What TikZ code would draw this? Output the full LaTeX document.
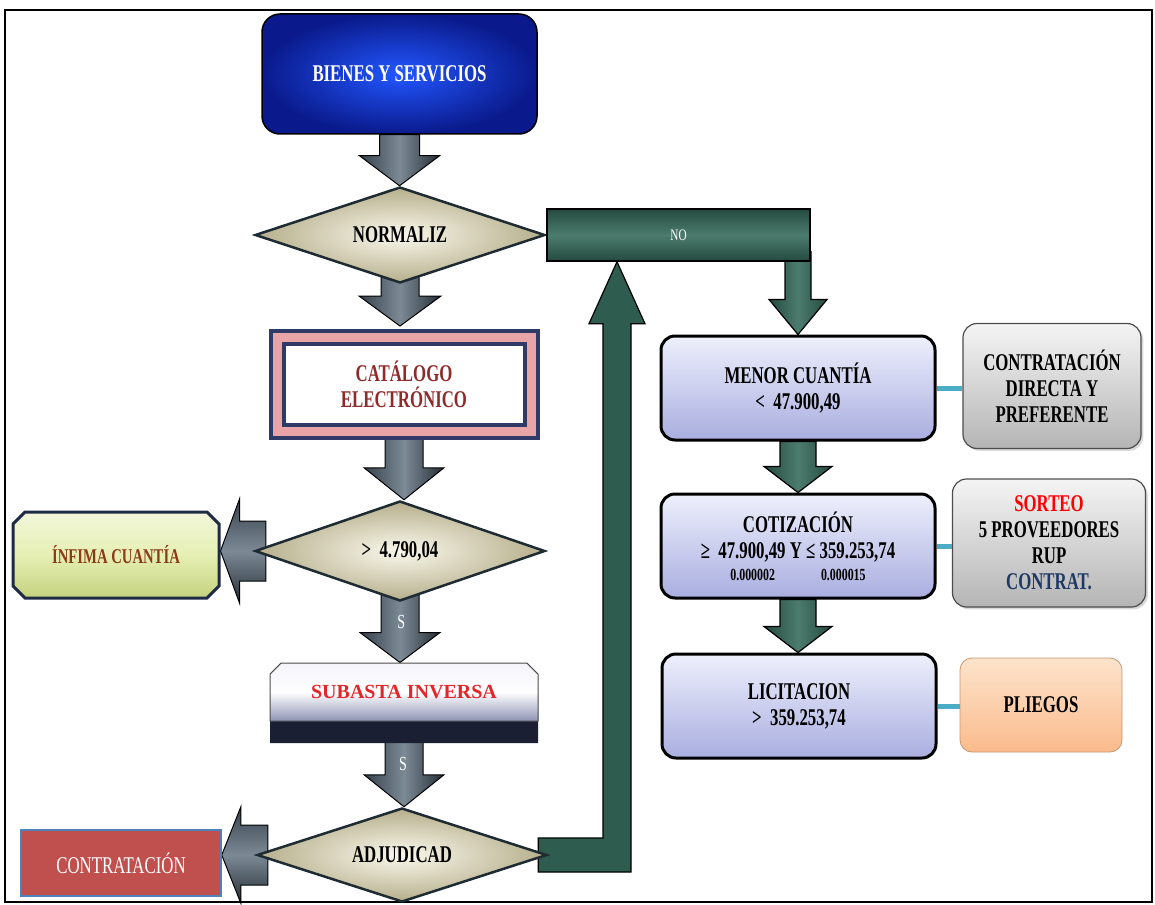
\documentclass[tikz,border=0pt]{standalone}
\usepackage{fontspec}
\setmainfont[FakeStretch=0.7]{Liberation Serif}
\newfontfamily\widefont{Liberation Serif}
\usetikzlibrary{shapes.geometric, shapes.misc, shadows, calc}

\definecolor{deepblue}{HTML}{0A1A8C}
\definecolor{brightblue}{HTML}{2257FF}
\definecolor{creamlight}{HTML}{FAF8EC}
\definecolor{creamdark}{HTML}{B6AF8C}
\definecolor{slateedge}{HTML}{1E2B33}
\definecolor{arrowdark}{HTML}{36424C}
\definecolor{arrowlight}{HTML}{7C8A96}
\definecolor{pinkband}{HTML}{E8A4A6}
\definecolor{catnavy}{HTML}{2F3B66}
\definecolor{catred}{HTML}{8E2B2B}
\definecolor{limefill}{HTML}{E6EFB4}
\definecolor{limedark}{HTML}{C4D27E}
\definecolor{navyedge}{HTML}{1F2A44}
\definecolor{infimatext}{HTML}{8B3B17}
\definecolor{subred}{HTML}{E3262B}
\definecolor{sublight}{HTML}{F4F4FB}
\definecolor{subdark}{HTML}{8F94B5}
\definecolor{subshade}{HTML}{1B1F33}
\definecolor{contrred}{HTML}{C0504D}
\definecolor{contredge}{HTML}{4F81BD}
\definecolor{flowgreen}{HTML}{2E5D50}
\definecolor{flowgreenlight}{HTML}{4C7C6E}
\definecolor{lavtop}{HTML}{EEF0FC}
\definecolor{lavbot}{HTML}{A9AEE0}
\definecolor{greytop}{HTML}{F4F4F4}
\definecolor{greybot}{HTML}{B5B5B5}
\definecolor{peachtop}{HTML}{FDE3CC}
\definecolor{peachbot}{HTML}{FABB8C}
\definecolor{linkteal}{HTML}{4BACC6}
\definecolor{contratblue}{HTML}{1F3864}

\pgfdeclarelayer{background}
\pgfsetlayers{background,main}

\newcommand{\bigtext}{\fontsize{24}{26}\selectfont\bfseries}

% block arrow pointing down: style, from, to, half shaft, half head, head length
\newcommand{\downblock}[6]{%
	\path[#1] let \p1=(#2), \p2=(#3) in
		(\x1-#4,\y1) -- (\x1+#4,\y1) -- (\x1+#4,\y2+#6) -- (\x1+#5,\y2+#6)
		-- (\x1,\y2) -- (\x1-#5,\y2+#6) -- (\x1-#4,\y2+#6) -- cycle;}
% block arrow pointing left: style, from, to, half shaft, half head, head length
\newcommand{\leftblock}[6]{%
	\path[#1] let \p1=(#2), \p2=(#3) in
		(\x1,\y1+#4) -- (\x2+#6,\y1+#4) -- (\x2+#6,\y1+#5) -- (\x2,\y1)
		-- (\x2+#6,\y1-#5) -- (\x2+#6,\y1-#4) -- (\x1,\y1-#4) -- cycle;}

\tikzset{%
	start box/.style={
		rectangle, rounded corners=18pt,
		minimum width=275pt, minimum height=120pt,
		inner color=brightblue, outer color=deepblue,
		draw=black, line width=1.5pt,
		text=white, font=\bigtext
	},
	decision/.style={
		diamond, aspect=3, inner sep=0pt,
		minimum width=290pt, minimum height=96pt,
		inner color=creamlight, outer color=creamdark,
		draw=slateedge, line width=2.5pt,
		font=\bigtext
	},
	catalog box/.style={
		rectangle, minimum width=254pt, minimum height=94pt,
		fill=white, draw=catnavy, line width=4pt,
		double=pinkband, double distance=9pt,
		text=catred, font=\bigtext, align=center
	},
	infima box/.style={
		chamfered rectangle, chamfered rectangle xsep=9pt,
		minimum width=206pt, minimum height=86pt,
		top color=limefill!50!white, bottom color=limedark, middle color=limefill,
		draw=navyedge, line width=3pt,
		text=infimatext, font=\fontsize{21}{24}\selectfont\bfseries
	},
	auction box/.style={
		chamfered rectangle, chamfered rectangle xsep=8pt,
		chamfered rectangle corners={north west,north east},
		minimum width=268pt, minimum height=58pt,
		top color=sublight, bottom color=subdark, middle color=white,
		draw=black!70, line width=1pt,
		drop shadow={shadow xshift=0pt, shadow yshift=-22pt, fill=subshade, opacity=1},
		text=subred, font=\widefont\fontsize{20}{22}\selectfont\bfseries
	},
	result box/.style={
		rectangle, minimum width=200pt, minimum height=66pt,
		fill=contrred, draw=contredge, line width=1.5pt,
		text=white, font=\fontsize{24}{26}\selectfont
	},
	green bar/.style={
		rectangle, minimum width=263pt, minimum height=52pt,
		top color=flowgreen!80!black, bottom color=flowgreen!80!black, middle color=flowgreenlight,
		draw=black, line width=1.5pt,
		text=white, font=\fontsize{16}{16}\selectfont
	},
	range box/.style={
		rectangle, rounded corners=14pt,
		minimum width=274pt, minimum height=104pt,
		top color=lavtop, bottom color=lavbot,
		draw=black, line width=3pt,
		font=\bigtext, align=center
	},
	side note/.style={
		rectangle, rounded corners=14pt,
		top color=greytop, bottom color=greybot,
		draw=black!70, line width=1.2pt,
		drop shadow={opacity=0.3},
		font=\bigtext, align=center
	},
	peach note/.style={
		rectangle, rounded corners=12pt,
		top color=peachtop, bottom color=peachbot,
		draw=peachbot!80!black, line width=0.8pt,
		font=\bigtext, align=center
	},
	gray arrow/.style={
		left color=arrowdark, right color=arrowdark!70!black, middle color=arrowlight,
		draw=black, line width=1pt
	},
	gray side arrow/.style={
		top color=arrowdark, bottom color=arrowdark!70!black, middle color=arrowlight,
		draw=black, line width=1pt
	},
	green arrow/.style={
		left color=flowgreen!80!black, right color=flowgreen!80!black, middle color=flowgreenlight,
		draw=black, line width=1.2pt
	},
	link/.style={draw=linkteal, line width=5pt},
	arrow letter/.style={text=white, font=\fontsize{20}{20}\selectfont}
}

\begin{document}
\begin{tikzpicture}[x=1pt, y=-1pt]
	\useasboundingbox (0,0) rectangle (1155,904);
	\draw[line width=1.5pt] (5,10) rectangle (1152,902);
	
	% main column
	\node[start box] (bienes) at (399.5,74) {BIENES Y SERVICIOS};
	\node[decision] (norm) at (400,235) {NORMALIZ};
	\node[catalog box] (cat) at (404,384) {CATÁLOGO\\ELECTRÓNICO};
	\node[decision, minimum height=100pt] (limit) at (400,551) {>\ \ 4.790,04};
	\node[auction box] (sub) at (404,692) {SUBASTA INVERSA};
	\node[decision, minimum height=94pt] (adj) at (402,855) {ADJUDICAD};
	
	% side exits
	\node[infima box] (infima) at (116,555) {ÍNFIMA CUANTÍA};
	\node[result box] (contr) at (121,863) {CONTRATACIÓN};
	
	% NO branch
	\node[green bar, anchor=west] (nobar) at (norm.east) {NO};
	\node[range box] (menor) at (798,388) {MENOR CUANTÍA\\<\ \ 47.900,49};
	\node[range box] (cot) at (798,546) {COTIZACIÓN\\≥\ \ 47.900,49 Y ≤ 359.253,74\\[-4pt]
		{\fontsize{17}{19}\selectfont 0.000002\hspace{46pt}0.000015}};
	\node[range box] (lic) at (799,706) {LICITACION\\>\ \ 359.253,74};
	
	\node[side note, minimum width=178pt, minimum height=125pt] (directa) at (1052,386)
		{CONTRATACIÓN\\DIRECTA Y\\PREFERENTE};
	\node[side note, minimum width=193pt, minimum height=128pt] (sorteo) at (1049,543)
		{\textcolor{red}{SORTEO}\\5 PROVEEDORES\\RUP\\\textcolor{contratblue}{CONTRAT.}};
	\node[peach note, minimum width=162pt, minimum height=94pt] (pliegos) at (1041,705) {PLIEGOS};
	
	\draw[link] (menor.east) -- (directa.west |- menor.east);
	\draw[link] (cot.east) -- (sorteo.west |- cot.east);
	\draw[link] (lic.east) -- (pliegos.west |- lic.east);
	
	% letters on the arrows
	\node[arrow letter] (s1) at ($(limit.south)!0.33!(sub.north)$) {S};
	\node[arrow letter] (s2) at ($(sub.south)!0.5!(adj.north)$) {S};
	
	\path (617,0) coordinate (rx);
	\coordinate (rtip) at (rx |- nobar.south);
	
	\begin{pgfonlayer}{background}
		\downblock{gray arrow}{bienes.south}{norm.north}{20pt}{40pt}{30pt}
		\downblock{gray arrow}{$(norm.south)+(0,-15)$}{$(cat.north)+(0,-9)$}{19pt}{41pt}{30pt}
		\downblock{gray arrow}{cat.south}{limit.north}{19pt}{40pt}{32pt}
		\downblock{gray arrow}{$(limit.south)+(0,-15)$}{sub.north}{19pt}{40pt}{30pt}
		\downblock{gray arrow}{sub.south}{adj.north}{19pt}{40pt}{32pt}
		\leftblock{gray side arrow}{$(limit.west)+(12,0)$}{infima.east}{30pt}{52pt}{19pt}
		\leftblock{gray side arrow}{$(adj.west)+(12,0)$}{contr.east}{30pt}{48pt}{19pt}
		
		\downblock{green arrow}{$(nobar.south -| menor.north)+(0,-10)$}{menor.north}{13pt}{29pt}{35pt}
		\downblock{green arrow}{menor.south}{cot.north}{18pt}{34pt}{26pt}
		\downblock{green arrow}{cot.south}{lic.north}{18pt}{34pt}{26pt}
		
		% return path from ADJUDICAD up to the NO bar
		\path[fill=flowgreen, draw=black, line width=1.2pt] let \p1=(adj.east), \p2=(rtip) in
			(\x1-10pt,\y1+17pt) -- (\x2-14pt,\y1+17pt) -- (\x2-14pt,\y2-62pt) -- (\x2-28pt,\y2-62pt)
			-- (\x2,\y2) -- (\x2+28pt,\y2-62pt) -- (\x2+14pt,\y2-62pt) -- (\x2+14pt,\y1-17pt)
			-- (\x1-10pt,\y1-17pt) -- cycle;
	\end{pgfonlayer}
\end{tikzpicture}
\end{document}
